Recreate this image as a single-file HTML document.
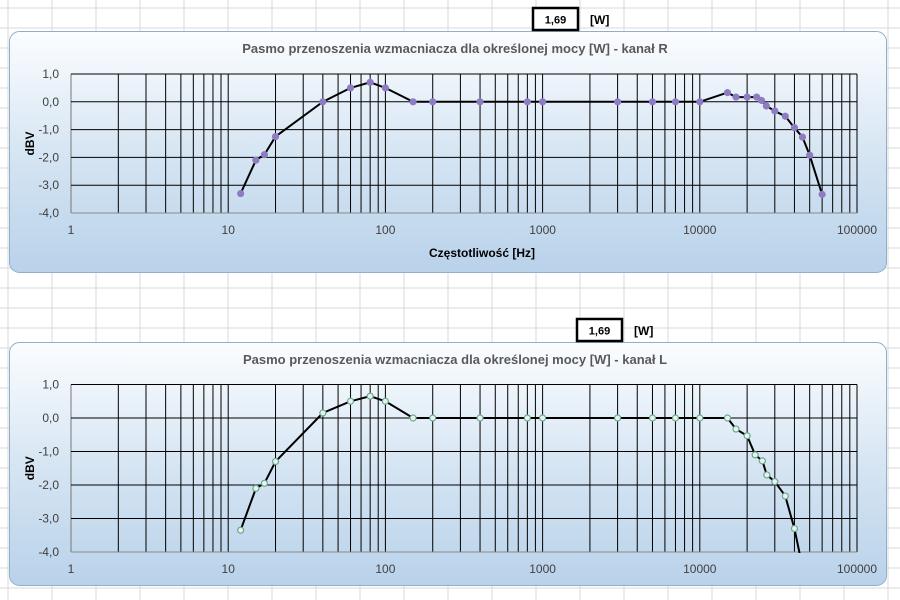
<!DOCTYPE html>
<html><head><meta charset="utf-8"><style>
body{margin:0;width:900px;height:600px;overflow:hidden;background:#fff;font-family:"Liberation Sans",sans-serif}
svg{position:absolute;left:0;top:0}
</style></head><body>
<svg id="s" width="900" height="600">
<defs>
<linearGradient id="g" x1="0" y1="0" x2="0" y2="1"><stop offset="0" stop-color="#fbfdff"/><stop offset="0.55" stop-color="#d3e3f2"/><stop offset="1" stop-color="#b9d2ea"/></linearGradient>
<clipPath id="c1"><rect x="70" y="60" width="790" height="154"/></clipPath>
<clipPath id="c2"><rect x="70" y="370" width="790" height="183"/></clipPath>
</defs>
<g id="bg"></g>
<g id="charts"></g>
</svg>
<script>
const freqR=[12,15,17,20,40,60,80,100,150,200,400,800,1000,3000,5000,7000,10000,15000,17000,20000,23000,24700,26500,30000,35000,40000,45000,50000,60000];
const dbvR=[-3.3,-2.1,-1.9,-1.25,0,0.5,0.7,0.5,0,0,0,0,0,0,0,0,0,0.33,0.17,0.17,0.17,0.05,-0.15,-0.33,-0.52,-0.93,-1.27,-1.92,-3.33];
const freqL=[12,15,17,20,40,60,80,100,150,200,400,800,1000,3000,5000,7000,10000,15000,17000,20000,22500,25000,26700,30000,35000,40000,45000];
const dbvL=[-3.35,-2.1,-1.95,-1.3,0.15,0.5,0.65,0.5,0,0,0,0,0,0,0,0,0,0,-0.33,-0.53,-1.1,-1.28,-1.7,-1.9,-2.33,-3.3,-4.45];
const yTicks=[1,0,-1,-2,-3,-4];
const yTickLabels=["1,0","0,0","-1,0","-2,0","-3,0","-4,0"];
const xTicks=[1,10,100,1000,10000,100000];
const powerValue="1,69";
const NS="http://www.w3.org/2000/svg";
const svg=document.getElementById('s');
function mk(t,a,p){const e=document.createElementNS(NS,t);for(const k in a)e.setAttribute(k,a[k]);(p||svg).appendChild(e);return e;}
const bg=document.getElementById('bg');
for(let x=8;x<900;x+=44){const l=mk('line',{x1:x,y1:0,x2:x,y2:600,stroke:'#d9d9d9','stroke-width':1},bg);}
for(let y=8;y<600;y+=20){mk('line',{x1:0,y1:y,x2:900,y2:y,stroke:'#d9d9d9','stroke-width':1},bg);}
const charts=document.getElementById('charts');
function chart(o){
  const g=mk('g',{},charts);
  
  
  const box=mk('rect',{x:9.5,y:o.by,width:877,height:o.bh,rx:10,fill:'url(#g)',stroke:'#8fb0cc','stroke-width':1},g);
  
  
  const vb=mk('rect',{x:o.vx,y:o.vy,width:45,height:22,fill:'#fff',stroke:'#000','stroke-width':2.5},g);
  
  
  const vt=mk('text',{x:o.vx+22.5,y:o.vy+15.5,'text-anchor':'middle','font-size':11,'font-weight':'bold',fill:'#000'},g);vt.textContent=powerValue;
  
  
  const wt=mk('text',{x:o.vx+57,y:o.vy+16,'font-size':12,'font-weight':'bold',fill:'#000'},g);wt.textContent='[W]';
  
  
  const t=mk('text',{x:455,y:o.ty,'text-anchor':'middle','font-size':13,'font-weight':'bold',fill:'#595959'},g);t.textContent=o.title;
  
  
  const X0=71,D=157.2,top=o.top,U=o.unit;
  const X=f=>X0+Math.log10(f)*D, Y=v=>top+(1-v)*U;
  const bottom=Y(-4);
  for(let d=0;d<5;d++)for(let m=1;m<=9;m++){const x=X(Math.pow(10,d)*m);
    const l=mk('line',{x1:x,y1:top,x2:x,y2:bottom,stroke:m==1&&d==0?'#777':'#000','stroke-width':1},g);
    }
  mk('line',{x1:X(100000),y1:top,x2:X(100000),y2:bottom,stroke:'#000','stroke-width':1},g);
  yTicks.forEach((v,i)=>{const l=mk('line',{x1:X0,y1:Y(v),x2:X(100000),y2:Y(v),stroke:v==-4?'#888':'#000','stroke-width':1},g);
    
    const tx=mk('text',{x:59,y:Y(v)+4,'text-anchor':'end','font-size':12,fill:'#404040'},g);tx.textContent=yTickLabels[i];
    });
  xTicks.forEach(f=>{const tx=mk('text',{x:X(f),y:bottom+21,'text-anchor':'middle','font-size':12,fill:'#404040'},g);tx.textContent=String(f);
    });
  const yl=mk('text',{x:0,y:0,transform:`translate(${34},${(top+bottom)/2}) rotate(-90)`,'text-anchor':'middle','font-size':12,'font-weight':'bold',fill:'#000'},g);yl.textContent='dBV';
  
  if(o.xt){const xl=mk('text',{x:482,y:o.xt,'text-anchor':'middle','font-size':12,'font-weight':'bold',fill:'#000'},g);xl.textContent='Częstotliwość  [Hz]';
    }
  const sg=mk('g',{'clip-path':o.clip},g);
  const pts=o.f.map((f,i)=>X(f).toFixed(1)+','+Y(o.v[i]).toFixed(1)).join(' ');
  const pl=mk('polyline',{points:pts,fill:'none',stroke:'#000','stroke-width':2},sg);
  
  o.f.forEach((f,i)=>{const c=mk('circle',{cx:X(f),cy:Y(o.v[i]),r:3,fill:o.mf,stroke:o.ms,'stroke-width':1.2},sg);
    });
}
chart({name:'chart-channel-r',by:31.5,bh:241,vx:533,vy:8,ty:53,title:'Pasmo przenoszenia wzmacniacza dla określonej mocy [W] - kanał R',top:74,unit:27.8,xt:257,clip:'url(#c1)',f:freqR,v:dbvR,mf:'#8e7cc3',ms:'#8e7cc3'});
chart({name:'chart-channel-l',by:342.5,bh:243,vx:577,vy:319,ty:364,title:'Pasmo przenoszenia wzmacniacza dla określonej mocy [W] - kanał L',top:384.5,unit:33.5,xt:0,clip:'url(#c2)',f:freqL,v:dbvL,mf:'#e8f3ee',ms:'#6aa88f'});
</script>
</body></html>
